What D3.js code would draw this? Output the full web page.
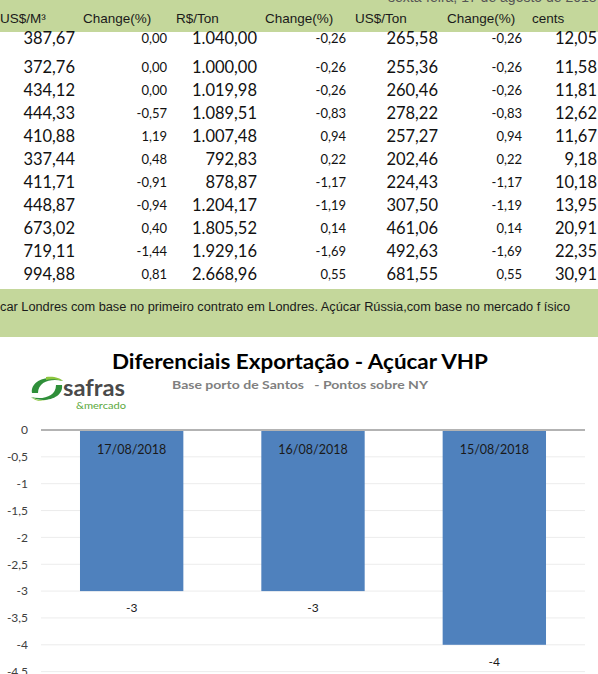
<!DOCTYPE html>
<html>
<head>
<meta charset="utf-8">
<script src="https://cdn.jsdelivr.net/npm/d3@7"></script>
<style>
  body { margin: 0; background: #fff; }
  svg { display: block; }
</style>
</head>
<body>
<svg id="chart"></svg>
<script>
// table data (price table above the chart)
const headers = ['US$/M³', 'Change(%)', 'R$/Ton', 'Change(%)', 'US$/Ton', 'Change(%)', 'cents'];
const usdM3 = [387.67, 372.76, 434.12, 444.33, 410.88, 337.44, 411.71, 448.87, 673.02, 719.11, 994.88];
const chgM3 = [0.00, 0.00, 0.00, -0.57, 1.19, 0.48, -0.91, -0.94, 0.40, -1.44, 0.81];
const brlTon = [1040.00, 1000.00, 1019.98, 1089.51, 1007.48, 792.83, 878.87, 1204.17, 1805.52, 1929.16, 2668.96];
const chgBrl = [-0.26, -0.26, -0.26, -0.83, 0.94, 0.22, -1.17, -1.19, 0.14, -1.69, 0.55];
const usdTon = [265.58, 255.36, 260.46, 278.22, 257.27, 202.46, 224.43, 307.50, 461.06, 492.63, 681.55];
const chgUsd = [-0.26, -0.26, -0.26, -0.83, 0.94, 0.22, -1.17, -1.19, 0.14, -1.69, 0.55];
const cents = [12.05, 11.58, 11.81, 12.62, 11.67, 9.18, 10.18, 13.95, 20.91, 22.35, 30.91];
const dateLine = 'sexta-feira, 17 de agosto de 2018';
const footnote = 'car Londres com base no primeiro contrato em Londres. Açúcar Rússia,com base no mercado f ísico';

// chart data
const title = 'Diferenciais Exportação - Açúcar VHP';
const subtitle = 'Base porto de Santos   - Pontos sobre NY';
const dates = ['17/08/2018', '16/08/2018', '15/08/2018'];
const diffs = [-3, -3, -4];

const width = 598, height = 674;
const green = '#c4d79b';
const br = d3.formatLocale({decimal: ',', thousands: '.', grouping: [3], currency: ['', ''], minus: '-'});
const fmt = br.format(',.2f');
const fmtTick = br.format('~g');

const svg = d3.select('#chart').attr('width', width).attr('height', height);

// ---------- table ----------
svg.append('rect').attr('x', 0).attr('y', 0).attr('width', width).attr('height', 32).attr('fill', green);
svg.append('text')
  .attr('x', 388).attr('y', 2)
  .attr('font-family', 'Liberation Sans, Arial, sans-serif').attr('font-size', 14)
  .attr('fill', '#555').text(dateLine);

const headerX = [0, 83, 176, 265, 355, 447, 532];
svg.append('g').selectAll('text')
  .data(headers)
  .join('text')
  .attr('x', (d, i) => headerX[i])
  .attr('y', 23)
  .attr('font-family', 'Liberation Sans, Arial, sans-serif')
  .attr('font-size', 13.5)
  .attr('fill', '#1a1a1a')
  .text(d => d);

const columns = [
  {vals: usdM3, right: 75, big: true},
  {vals: chgM3, right: 167, big: false},
  {vals: brlTon, right: 257, big: true},
  {vals: chgBrl, right: 346, big: false},
  {vals: usdTon, right: 438, big: true},
  {vals: chgUsd, right: 522, big: false},
  {vals: cents, right: 597, big: true}
];
const rowY = d3.scalePoint().domain(d3.range(1, usdM3.length)).range([67, 274]);
const yOfRow = i => (i === 0 ? 38 : rowY(i));

columns.forEach(col => {
  svg.append('g').selectAll('text')
    .data(col.vals)
    .join('text')
    .attr('x', col.right)
    .attr('y', (d, i) => yOfRow(i))
    .attr('dy', '0.36em')
    .attr('text-anchor', 'end')
    .attr('font-family', 'Lato, sans-serif')
    .attr('font-size', col.big ? 16.5 : 13)
    .attr('fill', '#111')
    .text(d => fmt(d));
});

svg.append('rect').attr('x', 0).attr('y', 289).attr('width', width).attr('height', 48).attr('fill', green);
svg.append('text')
  .attr('x', 0).attr('y', 311)
  .attr('font-family', 'Liberation Sans, Arial, sans-serif').attr('font-size', 12)
  .attr('textLength', 570).attr('lengthAdjust', 'spacingAndGlyphs')
  .attr('fill', '#1a1a1a').text(footnote);

// ---------- chart ----------
svg.append('text')
  .attr('x', 300).attr('y', 369)
  .attr('text-anchor', 'middle')
  .attr('font-family', 'Lato, sans-serif').attr('font-weight', 'bold').attr('font-size', 21)
  .attr('textLength', 376).attr('lengthAdjust', 'spacingAndGlyphs')
  .attr('fill', '#000').text(title);
svg.append('text')
  .attr('x', 300).attr('y', 389)
  .attr('text-anchor', 'middle')
  .style('white-space', 'pre')
  .attr('font-family', 'Lato, sans-serif').attr('font-weight', 'bold').attr('font-size', 12)
  .attr('textLength', 256).attr('lengthAdjust', 'spacingAndGlyphs')
  .attr('fill', '#7f7f7f').text(subtitle);

// logo
const logo = svg.append('g');
logo.append('path')
  .attr('d', 'M32,393 C30,380 50,374 63,381 C52,378 38,381 38,393 Z')
  .attr('fill', '#2f8f3a');
logo.append('path')
  .attr('d', 'M46,377 C54,376 60,378 63,381 C56,379 50,379 46,380 Z')
  .attr('fill', '#8dc63f');
logo.append('path')
  .attr('d', 'M62,385 C64,398 44,404 31,397 C42,400 56,397 56,385 Z')
  .attr('fill', '#2f8f3a');
logo.append('path')
  .attr('d', 'M31,397 C36,400 42,401 46,400 C41,402 35,401 31,397 Z')
  .attr('fill', '#8dc63f');
logo.append('text')
  .attr('x', 63).attr('y', 396)
  .attr('font-family', 'Lato, sans-serif').attr('font-size', 23).attr('font-weight', 'bold')
  .attr('textLength', 62).attr('lengthAdjust', 'spacingAndGlyphs')
  .attr('fill', '#4a4a4a').text('safras');
logo.append('text')
  .attr('x', 76).attr('y', 409)
  .attr('font-family', 'Lato, sans-serif').attr('font-size', 9.5)
  .attr('textLength', 50).attr('lengthAdjust', 'spacingAndGlyphs')
  .attr('fill', '#5aa83c').text('&mercado');

const x = d3.scaleBand().domain(dates).range([41, 585]).paddingInner(0.43).paddingOuter(0.215);
const y = d3.scaleLinear().domain([-5, 0]).range([698.5, 430]);

const ticks = y.ticks(10);
svg.append('g').selectAll('line')
  .data(ticks.filter(t => t !== 0))
  .join('line')
  .attr('x1', 41).attr('x2', 585)
  .attr('y1', d => y(d)).attr('y2', d => y(d))
  .attr('stroke', '#ececec').attr('stroke-width', 1);

svg.append('g').selectAll('text')
  .data(ticks)
  .join('text')
  .attr('x', 28)
  .attr('y', d => y(d))
  .attr('dy', '0.36em')
  .attr('text-anchor', 'end')
  .attr('font-family', 'Lato, sans-serif').attr('font-size', 12)
  .attr('fill', '#404040')
  .text(d => fmtTick(d));

const bars = svg.append('g');
bars.selectAll('rect')
  .data(dates)
  .join('rect')
  .attr('x', d => x(d))
  .attr('y', y(0))
  .attr('width', x.bandwidth())
  .attr('height', (d, i) => y(diffs[i]) - y(0))
  .attr('fill', '#4f81bd');

svg.append('line')
  .attr('x1', 41).attr('x2', 585)
  .attr('y1', y(0)).attr('y2', y(0))
  .attr('stroke', '#b3b3b3').attr('stroke-width', 2);

bars.selectAll('text.date')
  .data(dates)
  .join('text')
  .attr('class', 'date')
  .attr('x', d => x(d) + x.bandwidth() / 2)
  .attr('y', 449)
  .attr('dy', '0.36em')
  .attr('text-anchor', 'middle')
  .attr('font-family', 'Lato, sans-serif').attr('font-size', 12.5)
  .attr('fill', '#1a1a1a')
  .text(d => d);

bars.selectAll('text.val')
  .data(dates)
  .join('text')
  .attr('class', 'val')
  .attr('x', d => x(d) + x.bandwidth() / 2)
  .attr('y', (d, i) => y(diffs[i]) + 17)
  .attr('dy', '0.36em')
  .attr('text-anchor', 'middle')
  .attr('font-family', 'Lato, sans-serif').attr('font-size', 12)
  .attr('fill', '#1a1a1a')
  .text((d, i) => fmtTick(diffs[i]));
</script>
</body>
</html>
